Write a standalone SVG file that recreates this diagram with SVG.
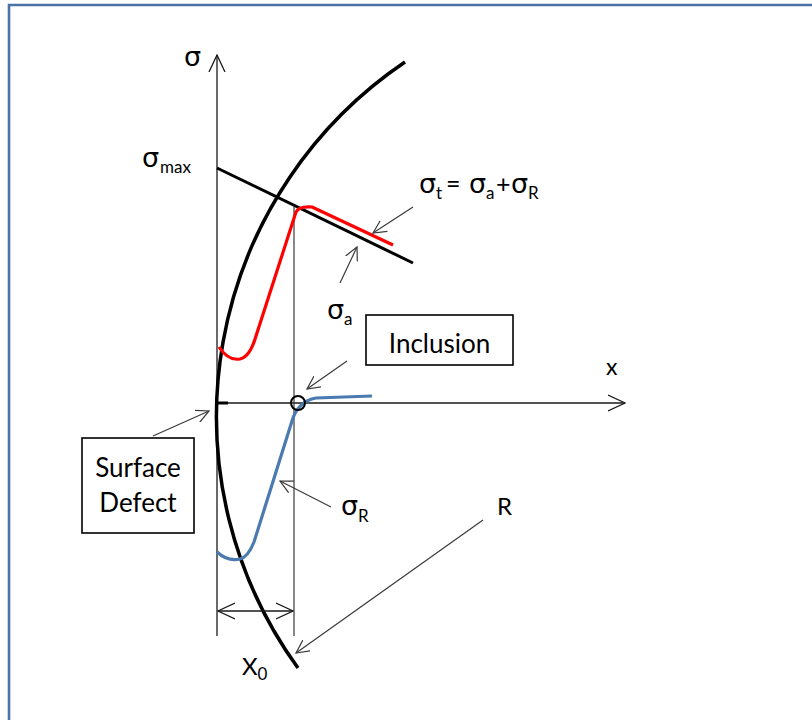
<svg xmlns="http://www.w3.org/2000/svg" width="812" height="720" viewBox="0 0 812 720">
  <style>
    .lbl { font-family: Lato, "Open Sans", "Noto Sans", sans-serif; fill: #000; }
    tspan.g, text.g { font-family: "DejaVu Sans", "Open Sans", sans-serif; font-size: 27px; }
    .sub { font-size: 17px; }
    .box { fill: #fff; stroke: #000; stroke-width: 1.6; }
    .thin { fill: none; stroke: #3a3a3a; stroke-width: 1.2; }
    .axis { fill: none; stroke: #1a1a1a; stroke-width: 1.3; }
    .ptr { fill: none; stroke: #3a3a3a; stroke-width: 1.2; marker-end: url(#open); }
  </style>
  <defs>
    <marker id="open" viewBox="0 0 14 14" refX="13" refY="7" markerWidth="14" markerHeight="14" markerUnits="userSpaceOnUse" orient="auto">
      <path d="M0,0.5 L13,7 L0,13.5" fill="none" stroke="#3a3a3a" stroke-width="1.2"/>
    </marker>
    <marker id="axhead" viewBox="0 0 18 18" refX="17" refY="9" markerWidth="18" markerHeight="18" markerUnits="userSpaceOnUse" orient="auto-start-reverse">
      <path d="M0,1 L17,9 L0,17" fill="none" stroke="#1a1a1a" stroke-width="1.3"/>
    </marker>
  </defs>

  <rect width="812" height="720" fill="#fff"/>
  <!-- frame -->
  <path d="M9,722 L9,5 L814,5" fill="none" stroke="#4a74a8" stroke-width="2.6"/>

  <!-- axes -->
  <g id="axes">
    <line class="axis" x1="217" y1="636" x2="217" y2="55" marker-end="url(#axhead)"/>
    <line class="axis" x1="217" y1="403" x2="625" y2="403" marker-end="url(#axhead)"/>
    <line x1="215" y1="403" x2="228" y2="403" stroke="#000" stroke-width="3"/>
    <line class="thin" x1="294" y1="207" x2="294" y2="636"/>
    <text class="lbl g" x="184" y="66">σ</text>
    <text class="lbl" x="606" y="375" font-size="23">x</text>
  </g>

  <!-- curves -->
  <g id="curves">
    <path d="M405,62 A428,428 0 0 0 298,668" fill="none" stroke="#000" stroke-width="3.5"/>
    <line x1="217" y1="168" x2="413" y2="263" stroke="#000" stroke-width="3"/>
    <path d="M219,347 Q228,361 240,359 Q250,357 256,336 L296,212 Q299,206 312,207 L393,245" fill="none" stroke="#ff0000" stroke-width="3.2" stroke-linejoin="round"/>
    <path d="M217,552 Q228,562 240,559 Q248,557 254,542 L292,421 Q298,401 316,398 L372,396" fill="none" stroke="#4a7ab0" stroke-width="3.2" stroke-linejoin="round"/>
    <circle cx="298" cy="403" r="7" fill="none" stroke="#000" stroke-width="2"/>
  </g>

  <!-- labels -->
  <g id="label-sigma-max">
    <text class="lbl" x="142" y="167"><tspan class="g">σ</tspan><tspan class="sub" x="160" y="173">max</tspan></text>
  </g>
  <g id="label-sigma-t">
    <text class="lbl" y="193" font-size="25"><tspan class="g" x="419">σ</tspan><tspan class="sub" x="436" y="199">t</tspan><tspan x="446" y="193">=</tspan><tspan class="g" x="469">σ</tspan><tspan class="sub" x="486" y="199">a</tspan><tspan x="496" y="193">+</tspan><tspan class="g" x="511">σ</tspan><tspan class="sub" x="528" y="199">R</tspan></text>
  </g>
  <g id="label-sigma-a">
    <text class="lbl" x="327" y="319"><tspan class="g">σ</tspan><tspan class="sub" x="344" y="325">a</tspan></text>
  </g>
  <g id="label-sigma-R">
    <text class="lbl" x="341" y="515"><tspan class="g">σ</tspan><tspan class="sub" x="358" y="522">R</tspan></text>
  </g>
  <g id="label-R">
    <text class="lbl" x="497" y="515" font-size="24">R</text>
  </g>
  <g id="label-X0">
    <text class="lbl" x="242" y="675" font-size="24">X<tspan class="sub" dy="5">0</tspan></text>
  </g>

  <!-- nodes -->
  <g id="inclusion">
    <rect class="box" x="366" y="315" width="147" height="50"/>
    <text class="lbl" x="439.5" y="353" font-size="26" text-anchor="middle">Inclusion</text>
  </g>
  <g id="surface-defect">
    <rect class="box" x="82" y="438" width="112" height="95"/>
    <text class="lbl" x="138" y="477" font-size="26" text-anchor="middle">Surface</text>
    <text class="lbl" x="138" y="512" font-size="26" text-anchor="middle">Defect</text>
  </g>

  <!-- connectors -->
  <g id="connectors">
    <line class="ptr" x1="413" y1="207" x2="373" y2="233"/>
    <line class="ptr" x1="340" y1="283" x2="357" y2="247"/>
    <line class="ptr" x1="347" y1="361" x2="307" y2="389"/>
    <line class="ptr" x1="153" y1="436" x2="209" y2="411"/>
    <line class="ptr" x1="331" y1="507" x2="280" y2="481"/>
    <line class="ptr" x1="483" y1="520" x2="296" y2="653"/>
    <line class="axis" x1="218" y1="611" x2="293" y2="611" marker-start="url(#axhead)" marker-end="url(#axhead)"/>
  </g>
</svg>
